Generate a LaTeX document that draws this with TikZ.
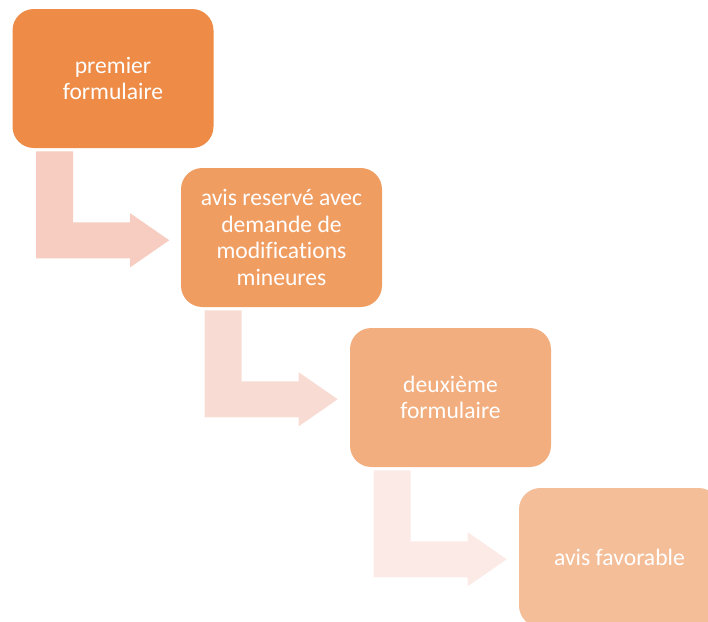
\documentclass[tikz,border=0pt]{standalone}
\usepackage{fontspec}
\setmainfont{Carlito}[Ligatures=CommonOff]
\usepackage{tikz}
\usetikzlibrary{calc}
\definecolor{stepA}{HTML}{ED8B47}
\definecolor{stepB}{HTML}{F09D62}
\definecolor{stepC}{HTML}{F2AE7E}
\definecolor{stepD}{HTML}{F4BE99}
\definecolor{bendA}{HTML}{F6CDC0}
\definecolor{bendB}{HTML}{F8DCD3}
\definecolor{bendC}{HTML}{FBEAE5}

\begin{document}
\begin{tikzpicture}[
  x=0.75pt, y=-0.75pt,
  stepbox/.style={rounded corners=16pt, align=center, text=white,
                  minimum width=150.75pt, minimum height=104.25pt, inner sep=0pt,
                  font=\fontsize{17.7}{20}\selectfont},
  bent/.style={draw=none}
]
\useasboundingbox (0,0) rectangle (708,622);
% --- steps ---------------------------------------------------------------
\node[stepbox, fill=stepA] (first)  at (113,78.5)    {premier\\ formulaire};
\node[stepbox, fill=stepB] (reserve) at (281.5,237.5) {avis reservé avec\\ demande de\\ modifications\\ mineures};
\node[stepbox, fill=stepC] (second) at (450.5,397.5) {deuxième\\ formulaire};
\node[stepbox, fill=stepD] (ok)     at (619.5,557.5) {avis favorable};
% --- bent arrows -----------------------------------------------------------
\coordinate (bend1) at ($(first.south west)+(24,3)$);
\coordinate (bend2) at ($(reserve.south west)+(24,3)$);
\coordinate (bend3) at ($(second.south west)+(24,3)$);
\fill[bent, bendA] (bend1) -- ++(37,0) -- ++(0,71) -- ++(57,0) -- ++(0,-9) -- ++(39,27)
  -- ++(-39,27) -- ++(0,-9) -- ++(-94,0) -- cycle;
\fill[bent, bendB] (bend2) -- ++(37,0) -- ++(0,71) -- ++(57,0) -- ++(0,-9) -- ++(39,27)
  -- ++(-39,27) -- ++(0,-9) -- ++(-94,0) -- cycle;
\fill[bent, bendC] (bend3) -- ++(37,0) -- ++(0,71) -- ++(57,0) -- ++(0,-9) -- ++(39,27)
  -- ++(-39,27) -- ++(0,-9) -- ++(-94,0) -- cycle;
\end{tikzpicture}
\end{document}
